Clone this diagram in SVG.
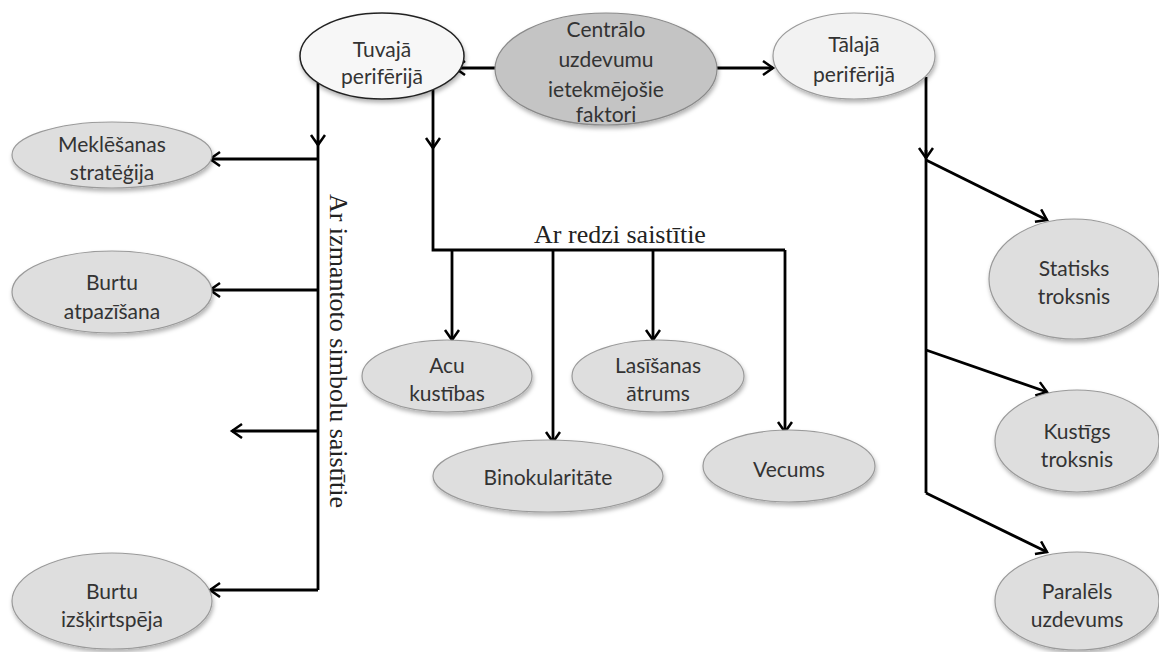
<svg xmlns="http://www.w3.org/2000/svg" width="1159" height="652" viewBox="0 0 1159 652">
<defs>
<filter id="sh" x="-20%" y="-20%" width="140%" height="150%">
<feDropShadow dx="1" dy="3" stdDeviation="2" flood-color="#000" flood-opacity="0.3"/>
</filter>
<marker id="ah" markerUnits="userSpaceOnUse" markerWidth="20" markerHeight="20" refX="12" refY="8" orient="auto">
<path d="M2,1 L12,8 L2,15" fill="none" stroke="#000" stroke-width="2.5"/>
</marker>
</defs>
<style>
.n{fill:#dedede;stroke:#9a9a9a;stroke-width:1.2;filter:url(#sh)}
.c{fill:#c4c4c4;stroke:#8a8a8a;stroke-width:1.2;filter:url(#sh)}
.l1{fill:#f7f7f7;stroke:#222;stroke-width:1.5;filter:url(#sh)}
.l2{fill:#f2f2f2;stroke:#9a9a9a;stroke-width:1.2;filter:url(#sh)}
.t{font-family:Lato,"Liberation Sans",sans-serif;font-size:21px;fill:#333;text-anchor:middle}
.s{font-family:"Liberation Serif",serif;font-size:26px;fill:#222}
.w{fill:none;stroke:#000;stroke-width:2.8}
.a{fill:none;stroke:#000;stroke-width:2.8;marker-end:url(#ah)}
</style>
<rect width="1159" height="652" fill="#fff"/>
<g id="connectors">
<path class="w" d="M318,140 V590"/>
<path class="a" d="M318,83 V145"/>
<path class="a" d="M318,159 H210"/>
<path class="a" d="M318,290 H210"/>
<path class="a" d="M318,431 H232"/>
<path class="a" d="M318,590 H210"/>
<path class="a" d="M496,68 H455"/>
<path class="a" d="M717,68 H773"/>
<path class="w" d="M433,140 V250 H785"/>
<path class="a" d="M433,90 V148"/>
<path class="a" d="M452,250 V340"/>
<path class="a" d="M553,250 V442"/>
<path class="a" d="M653,250 V340"/>
<path class="a" d="M785,250 V432"/>
<path class="w" d="M926,150 V493"/>
<path class="a" d="M926,77 V158"/>
<path class="a" d="M926,160 L1047,220"/>
<path class="a" d="M926,350 L1047,392"/>
<path class="a" d="M926,493 L1047,552"/>
</g>
<g id="central">
<ellipse class="c" cx="606" cy="69" rx="111" ry="56"/>
<text class="t" x="606" y="37">Centrālo</text>
<text class="t" x="606" y="67">uzdevumu</text>
<text class="t" x="606" y="97">ietekmējošie</text>
<text class="t" x="606" y="122">faktori</text>
</g>
<g id="tuvaja">
<ellipse class="l1" cx="382" cy="56" rx="82" ry="43"/>
<text class="t" x="382" y="57">Tuvajā</text>
<text class="t" x="382" y="84">perifērijā</text>
</g>
<g id="talaja">
<ellipse class="l2" cx="854" cy="56" rx="81" ry="43"/>
<text class="t" x="854" y="52">Tālajā</text>
<text class="t" x="854" y="82">perifērijā</text>
</g>
<g id="meklesanas">
<ellipse class="n" cx="112" cy="155" rx="100" ry="33"/>
<text class="t" x="112" y="152">Meklēšanas</text>
<text class="t" x="112" y="180">stratēģija</text>
</g>
<g id="burtu-atpazisana">
<ellipse class="n" cx="112" cy="292" rx="100" ry="41"/>
<text class="t" x="112" y="290">Burtu</text>
<text class="t" x="112" y="319">atpazīšana</text>
</g>
<g id="burtu-izskirtspeja">
<ellipse class="n" cx="112" cy="601" rx="100" ry="48"/>
<text class="t" x="112" y="599">Burtu</text>
<text class="t" x="112" y="627">izšķirtspēja</text>
</g>
<g id="acu-kustibas">
<ellipse class="n" cx="447" cy="376" rx="85" ry="36"/>
<text class="t" x="447" y="373">Acu</text>
<text class="t" x="447" y="401">kustības</text>
</g>
<g id="binokularitate">
<ellipse class="n" cx="548" cy="476" rx="115" ry="36"/>
<text class="t" x="548" y="485">Binokularitāte</text>
</g>
<g id="lasisanas-atrums">
<ellipse class="n" cx="658" cy="376" rx="86" ry="36"/>
<text class="t" x="658" y="373">Lasīšanas</text>
<text class="t" x="658" y="401">ātrums</text>
</g>
<g id="vecums">
<ellipse class="n" cx="789" cy="466" rx="86" ry="36"/>
<text class="t" x="789" y="477">Vecums</text>
</g>
<g id="statisks-troksnis">
<ellipse class="n" cx="1074" cy="279" rx="85" ry="60"/>
<text class="t" x="1074" y="276">Statisks</text>
<text class="t" x="1074" y="304">troksnis</text>
</g>
<g id="kustigs-troksnis">
<ellipse class="n" cx="1077" cy="441" rx="82" ry="51"/>
<text class="t" x="1077" y="439">Kustīgs</text>
<text class="t" x="1077" y="467">troksnis</text>
</g>
<g id="paralels-uzdevums">
<ellipse class="n" cx="1077" cy="601" rx="82" ry="49"/>
<text class="t" x="1077" y="599">Paralēls</text>
<text class="t" x="1077" y="627">uzdevums</text>
</g>
<g id="labels">
<text class="s" x="620" y="243" text-anchor="middle">Ar redzi saistītie</text>
<text class="s" transform="translate(330,351) rotate(90)" text-anchor="middle">Ar izmantoto simbolu saistītie</text>
</g>
</svg>
